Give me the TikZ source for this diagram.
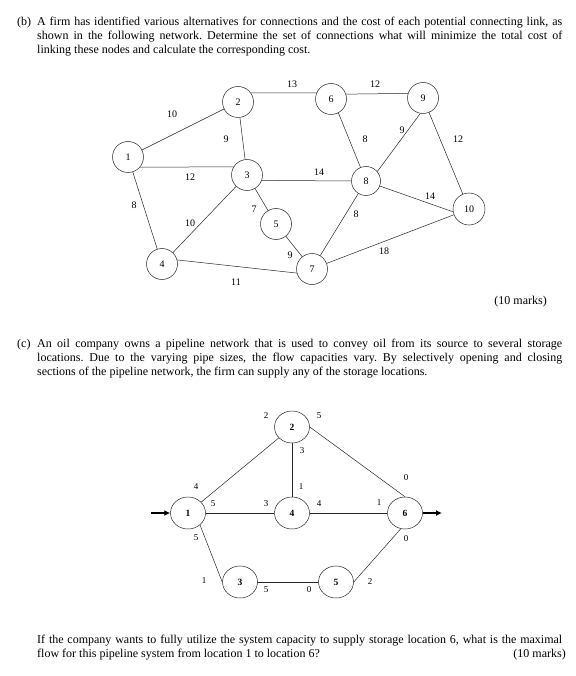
\documentclass[tikz,border=0pt]{standalone}
\usepackage{fontspec}
\setmainfont{Liberation Serif}
\usetikzlibrary{shapes.geometric,arrows.meta}
\begin{document}
\begin{tikzpicture}[x=1pt,y=-1pt,
  txt/.style={anchor=base west,inner sep=0,font=\fontsize{12}{14}\selectfont\frenchspacing},
  tn/.style={circle,draw=black!85,line width=0.5pt,minimum size=31pt,inner sep=0,font=\fontsize{10}{10}\selectfont},
  bn/.style={ellipse,draw=black!85,line width=0.5pt,minimum width=35pt,minimum height=32pt,inner sep=0,font=\bfseries\fontsize{9.5}{10}\selectfont},
  lab/.style={inner sep=0,font=\fontsize{10}{10}\selectfont},
  blab/.style={inner sep=0,font=\fontsize{9}{9}\selectfont},
  edge/.style={draw=black!85,line width=0.5pt},
  flow/.style={draw=black,line width=1.6pt,-{Latex[length=6pt,width=6pt]}}]
\fill[white] (0,0) rectangle (575,676);
\useasboundingbox (0,0) rectangle (575,676);
% ---- text (b)
\node[txt] (bl) at (17,26) {(b)};
\node[txt] (b1) at (37,26) {\makebox[525pt][s]{A firm has identified various alternatives for connections and the cost of each potential connecting link, as}};
\node[txt] (b2) at (37,40) {\makebox[525pt][s]{shown in the following network. Determine the set of connections what will minimize the total cost of}};
\node[txt] (b3) at (37,54) {linking these nodes and calculate the corresponding cost.};
\node[txt,anchor=base east] (bm) at (547,304) {(10 marks)};
% ---- text (c)
\node[txt] (cl) at (17,347) {(c)};
\node[txt] (c1) at (37,347) {\makebox[525pt][s]{An oil company owns a pipeline network that is used to convey oil from its source to several storage}};
\node[txt] (c2) at (37,361) {\makebox[525pt][s]{locations. Due to the varying pipe sizes, the flow capacities vary. By selectively opening and closing}};
\node[txt] (c3) at (37,375) {sections of the pipeline network, the firm can supply any of the storage locations.};
\node[txt] (q1) at (37,643) {\makebox[525pt][s]{If the company wants to fully utilize the system capacity to supply storage location 6, what is the maximal}};
\node[txt] (q2) at (37,657) {flow for this pipeline system from location 1 to location 6?};
\node[txt,anchor=base east] (qm) at (566,657) {(10 marks)};
% ---- top network
\node[tn] (t1) at (128,157) {1};
\node[tn] (t2) at (238,102) {2};
\node[tn] (t6) at (331,99) {6};
\node[tn] (t9) at (423,98) {9};
\node[tn] (t3) at (247,175) {3};
\node[tn,minimum size=29pt] (t8) at (366,181) {8};
\node[tn,minimum size=32pt] (t10) at (469,209) {10};
\node[tn] (t5) at (276,224) {5};
\node[tn] (t7) at (312,269) {7};
\node[tn] (t4) at (162,264) {4};
\draw[edge] (t1) -- (t2);
\draw[edge] (t1.-40) -- (t3.149);
\draw[edge] (t1) -- (t4);
\draw[edge] (t2.35) -- (t6.157);
\draw[edge] (t2) -- (t3);
\draw[edge] (t6.18) -- (t9.163);
\draw[edge] (t6.-62) -- (t8);
\draw[edge] (t9.-100) -- (t8.40);
\draw[edge] (t9) -- (t10);
\draw[edge] (t3.-20) -- (t8.west);
\draw[edge] (t3) -- (t5);
\draw[edge] (t3) -- (t4);
\draw[edge] (t8.-20) -- (t10.190);
\draw[edge] (t8) -- (t7);
\draw[edge] (t5) -- (t7);
\draw[edge] (t4.15) -- (t7.195);
\draw[edge] (t7) -- (t10);
\node[lab] (l12) at (172,114) {10};
\node[lab] (l26) at (292,84) {13};
\node[lab] (l23) at (226,139) {9};
\node[lab] (l13) at (190,177) {12};
\node[lab] (l38) at (319,172) {14};
\node[lab] (l69) at (375,84) {12};
\node[lab] (l68) at (365,139) {8};
\node[lab] (l98) at (402,130) {9};
\node[lab] (l910) at (458,139) {12};
\node[lab] (l810) at (430,196) {14};
\node[lab] (l87) at (356,214) {8};
\node[lab] (l14) at (134,205) {8};
\node[lab] (l34) at (190,223) {10};
\node[lab] (l35) at (254,209) {7};
\node[lab] (l57) at (290,255) {9};
\node[lab] (l47) at (236,282) {11};
\node[lab] (l710) at (384,251) {18};
% ---- bottom network
\node[bn] (p1) at (188,513) {1};
\node[bn] (p2) at (292,427) {2};
\node[bn] (p4) at (292,513) {4};
\node[bn] (p6) at (405,513) {6};
\node[bn] (p3) at (240,582) {3};
\node[bn] (p5) at (336,582) {5};
\coordinate (src) at (151,513);
\coordinate (snk) at (442,513);
\draw[flow] (src) -- (p1.west);
\draw[flow] (p6.east) -- (snk);
\draw[edge] (p1) -- (p2);
\draw[edge] (p1) -- (p4);
\draw[edge] (p2) -- (p4);
\draw[edge] (p2.east) -- (p6.north);
\draw[edge] (p4) -- (p6);
\draw[edge] (p1.-45) -- (p3.west);
\draw[edge] (p3) -- (p5);
\draw[edge] (p5.east) -- (p6.-105);
\node[blab] (m1) at (266,416) {2};
\node[blab] (m2) at (319,416) {5};
\node[blab] (m3) at (302,451) {3};
\node[blab] (m4) at (301,487) {1};
\node[blab] (m5) at (196,487) {4};
\node[blab] (m6) at (213,504) {5};
\node[blab] (m7) at (266,504) {3};
\node[blab] (m8) at (319,504) {4};
\node[blab] (m9) at (379,503) {1};
\node[blab] (m10) at (406,478) {0};
\node[blab] (m11) at (196,538) {5};
\node[blab] (m12) at (204,581) {1};
\node[blab] (m13) at (266,590) {5};
\node[blab] (m14) at (309,590) {0};
\node[blab] (m15) at (370,582) {2};
\node[blab] (m16) at (406,539) {0};
\end{tikzpicture}
\end{document}
